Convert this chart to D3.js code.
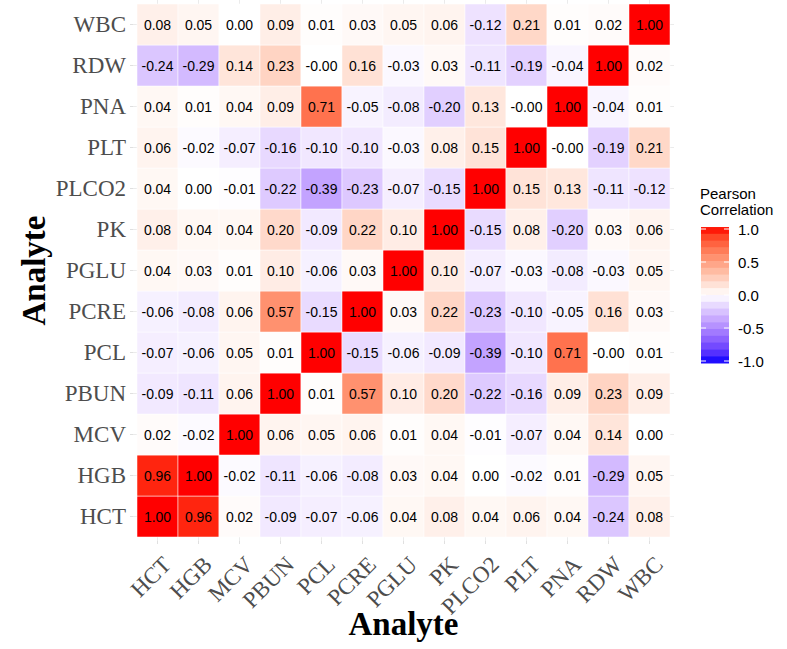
<!DOCTYPE html>
<html>
<head>
<meta charset="utf-8">
<script src="https://cdn.jsdelivr.net/npm/d3@7"></script>
<style>
body { margin: 0; background: #fff; }
.tick_label { font-family: "Liberation Serif", "Times New Roman", serif; font-size: 23px; fill: #4d4d4d; }
.axis_title { font-family: "Liberation Serif", "Times New Roman", serif; font-size: 33px; font-weight: bold; fill: #000; }
.cell_text { font-family: "Liberation Sans", Arial, sans-serif; font-size: 14px; fill: #000; }
.legend_text { font-family: "Liberation Sans", Arial, sans-serif; font-size: 15px; fill: #000; }
</style>
</head>
<body>
<div id="canvas"></div>
<script>
// ----------------------------------------------------------
// DATA -----------------------------------------------------
// ----------------------------------------------------------

// analytes, bottom-to-top on y, left-to-right on x
var analytes = ["HCT", "HGB", "MCV", "PBUN", "PCL", "PCRE", "PGLU", "PK", "PLCO2", "PLT", "PNA", "RDW", "WBC"];

// one row of correlations per analyte (columns in the same order as analytes)
var row_HCT   = [1.00, 0.96, 0.02, -0.09, -0.07, -0.06, 0.04, 0.08, 0.04, 0.06, 0.04, -0.24, 0.08];
var row_HGB   = [0.96, 1.00, -0.02, -0.11, -0.06, -0.08, 0.03, 0.04, 0.00, -0.02, 0.01, -0.29, 0.05];
var row_MCV   = [0.02, -0.02, 1.00, 0.06, 0.05, 0.06, 0.01, 0.04, -0.01, -0.07, 0.04, 0.14, 0.00];
var row_PBUN  = [-0.09, -0.11, 0.06, 1.00, 0.01, 0.57, 0.10, 0.20, -0.22, -0.16, 0.09, 0.23, 0.09];
var row_PCL   = [-0.07, -0.06, 0.05, 0.01, 1.00, -0.15, -0.06, -0.09, -0.39, -0.10, 0.71, -0.00, 0.01];
var row_PCRE  = [-0.06, -0.08, 0.06, 0.57, -0.15, 1.00, 0.03, 0.22, -0.23, -0.10, -0.05, 0.16, 0.03];
var row_PGLU  = [0.04, 0.03, 0.01, 0.10, -0.06, 0.03, 1.00, 0.10, -0.07, -0.03, -0.08, -0.03, 0.05];
var row_PK    = [0.08, 0.04, 0.04, 0.20, -0.09, 0.22, 0.10, 1.00, -0.15, 0.08, -0.20, 0.03, 0.06];
var row_PLCO2 = [0.04, 0.00, -0.01, -0.22, -0.39, -0.23, -0.07, -0.15, 1.00, 0.15, 0.13, -0.11, -0.12];
var row_PLT   = [0.06, -0.02, -0.07, -0.16, -0.10, -0.10, -0.03, 0.08, 0.15, 1.00, -0.00, -0.19, 0.21];
var row_PNA   = [0.04, 0.01, 0.04, 0.09, 0.71, -0.05, -0.08, -0.20, 0.13, -0.00, 1.00, -0.04, 0.01];
var row_RDW   = [-0.24, -0.29, 0.14, 0.23, -0.00, 0.16, -0.03, 0.03, -0.11, -0.19, -0.04, 1.00, 0.02];
var row_WBC   = [0.08, 0.05, 0.00, 0.09, 0.01, 0.03, 0.05, 0.06, -0.12, 0.21, 0.01, 0.02, 1.00];

// legend ticks
var legend_ticks = [1.0, 0.5, 0.0, -0.5, -1.0];

// ----------------------------------------------------------
// STRUCTURE ------------------------------------------------
// ----------------------------------------------------------

var rows = [row_HCT, row_HGB, row_MCV, row_PBUN, row_PCL, row_PCRE, row_PGLU,
            row_PK, row_PLCO2, row_PLT, row_PNA, row_RDW, row_WBC];

var cells = [];
rows.forEach(function (r, i) {
  r.forEach(function (v, j) {
    cells.push({ row: analytes[i], col: analytes[j], value: v });
  });
});

// keep the sign of -0.00 like the original labels
var fmt = function (v) {
  return (Object.is(v, -0) ? "-" : "") + v.toFixed(2);
};

var svg = d3.select("#canvas").append("svg")
  .attr("width", 787)
  .attr("height", 649);

// panel area (tiles) and outer panel incl. expansion
var grid_left = 137, grid_right = 670, grid_top = 4, grid_bottom = 537;
var pad = 4;

var xScale = d3.scaleBand()
  .domain(analytes)
  .range([grid_left, grid_right]);

var yScale = d3.scaleBand()
  .domain(analytes.slice().reverse())
  .range([grid_top, grid_bottom]);

// diverging fill, interpolated in Lab like ggplot's gradient2
var color = function (v) {
  return v >= 0
    ? d3.interpolateLab("#ffffff", "#ff0000")(Math.min(v, 1))
    : d3.interpolateLab("#ffffff", "#0000ff")(Math.min(-v, 1));
};

// ----------------------------------------------------------
// GRID LINES -----------------------------------------------
// ----------------------------------------------------------
var grid_group = svg.append("g").attr("class", "grid_group");

grid_group.selectAll(".vgrid")
  .data(analytes)
  .enter()
  .append("line")
  .attr("x1", function (d) { return xScale(d) + xScale.bandwidth() / 2; })
  .attr("x2", function (d) { return xScale(d) + xScale.bandwidth() / 2; })
  .attr("y1", grid_top - pad)
  .attr("y2", grid_bottom + pad)
  .style("stroke", "#ebebeb")
  .style("stroke-width", 1);

grid_group.selectAll(".hgrid")
  .data(analytes)
  .enter()
  .append("line")
  .attr("y1", function (d) { return yScale(d) + yScale.bandwidth() / 2; })
  .attr("y2", function (d) { return yScale(d) + yScale.bandwidth() / 2; })
  .attr("x1", grid_left - pad)
  .attr("x2", grid_right + pad)
  .style("stroke", "#ebebeb")
  .style("stroke-width", 1);

// ----------------------------------------------------------
// TILES ----------------------------------------------------
// ----------------------------------------------------------
var tile_group = svg.append("g").attr("class", "tile_group");

tile_group.selectAll(".tile")
  .data(cells)
  .enter()
  .append("rect")
  .attr("x", function (d) { return xScale(d.col); })
  .attr("y", function (d) { return yScale(d.row); })
  .attr("width", xScale.bandwidth())
  .attr("height", yScale.bandwidth())
  .style("fill", function (d) { return color(d.value); })
  .style("stroke", "#ffffff")
  .style("stroke-width", 0.5);

tile_group.selectAll(".cell_text")
  .data(cells)
  .enter()
  .append("text")
  .attr("class", "cell_text")
  .attr("x", function (d) { return xScale(d.col) + xScale.bandwidth() / 2; })
  .attr("y", function (d) { return yScale(d.row) + yScale.bandwidth() / 2; })
  .attr("text-anchor", "middle")
  .attr("dominant-baseline", "central")
  .text(function (d) { return fmt(d.value); });

// ----------------------------------------------------------
// AXES -----------------------------------------------------
// ----------------------------------------------------------
var axis_group = svg.append("g").attr("class", "axis_group");

// y tick marks + labels
axis_group.selectAll(".ytick")
  .data(analytes)
  .enter()
  .append("line")
  .attr("x1", grid_left - pad - 3)
  .attr("x2", grid_left - pad)
  .attr("y1", function (d) { return yScale(d) + yScale.bandwidth() / 2; })
  .attr("y2", function (d) { return yScale(d) + yScale.bandwidth() / 2; })
  .style("stroke", "#e0e0e0");

axis_group.selectAll(".ylabel")
  .data(analytes)
  .enter()
  .append("text")
  .attr("class", "tick_label")
  .attr("x", grid_left - pad - 7)
  .attr("y", function (d) { return yScale(d) + yScale.bandwidth() / 2; })
  .attr("text-anchor", "end")
  .attr("dominant-baseline", "central")
  .text(function (d) { return d; });

// x tick marks + rotated labels
axis_group.selectAll(".xtick")
  .data(analytes)
  .enter()
  .append("line")
  .attr("x1", function (d) { return xScale(d) + xScale.bandwidth() / 2; })
  .attr("x2", function (d) { return xScale(d) + xScale.bandwidth() / 2; })
  .attr("y1", grid_bottom + pad)
  .attr("y2", grid_bottom + pad + 3)
  .style("stroke", "#e0e0e0");

axis_group.selectAll(".xlabel")
  .data(analytes)
  .enter()
  .append("text")
  .attr("class", "tick_label")
  .attr("text-anchor", "end")
  .attr("transform", function (d) {
    var cx = xScale(d) + xScale.bandwidth() / 2 + 6;
    return "translate(" + cx + "," + (grid_bottom + pad + 16) + ") rotate(-45)";
  })
  .attr("dy", "0.55em")
  .text(function (d) { return d; });

// axis titles
svg.append("text")
  .attr("class", "axis_title")
  .attr("x", (grid_left + grid_right) / 2)
  .attr("y", 635)
  .attr("text-anchor", "middle")
  .text("Analyte");

svg.append("text")
  .attr("class", "axis_title")
  .attr("transform", "translate(45," + (grid_top + grid_bottom) / 2 + ") rotate(-90)")
  .attr("text-anchor", "middle")
  .text("Analyte");

// ----------------------------------------------------------
// LEGEND ---------------------------------------------------
// ----------------------------------------------------------
var legend_group = svg.append("g").attr("class", "legend_group");

var lScale = d3.scaleLinear()
  .domain([1, -1])
  .range([229, 361]);

var bar_x = 701, bar_w = 28;
var steps = d3.range(20);
var step_h = (lScale(-1.03) - lScale(1.03)) / steps.length;

legend_group.selectAll(".lstep")
  .data(steps)
  .enter()
  .append("rect")
  .attr("x", bar_x)
  .attr("y", function (d) { return lScale(1.03) + d * step_h; })
  .attr("width", bar_w)
  .attr("height", step_h + 0.5)
  .style("fill", function (d) {
    var v = 1.03 - (d + 0.5) * (2.06 / steps.length);
    return color(Math.max(-1, Math.min(1, v)));
  });

legend_group.selectAll(".ltick_l")
  .data(legend_ticks)
  .enter()
  .append("line")
  .attr("x1", bar_x).attr("x2", bar_x + 5)
  .attr("y1", function (d) { return lScale(d); })
  .attr("y2", function (d) { return lScale(d); })
  .style("stroke", "#fff").style("stroke-width", 1);

legend_group.selectAll(".ltick_r")
  .data(legend_ticks)
  .enter()
  .append("line")
  .attr("x1", bar_x + bar_w - 5).attr("x2", bar_x + bar_w)
  .attr("y1", function (d) { return lScale(d); })
  .attr("y2", function (d) { return lScale(d); })
  .style("stroke", "#fff").style("stroke-width", 1);

legend_group.selectAll(".llabel")
  .data(legend_ticks)
  .enter()
  .append("text")
  .attr("class", "legend_text")
  .attr("x", 738)
  .attr("y", function (d) { return lScale(d); })
  .attr("dominant-baseline", "central")
  .text(function (d) { return d.toFixed(1); });

legend_group.append("text")
  .attr("class", "legend_text")
  .attr("x", 700)
  .attr("y", 199)
  .text("Pearson");

legend_group.append("text")
  .attr("class", "legend_text")
  .attr("x", 700)
  .attr("y", 215)
  .text("Correlation");
</script>
</body>
</html>
